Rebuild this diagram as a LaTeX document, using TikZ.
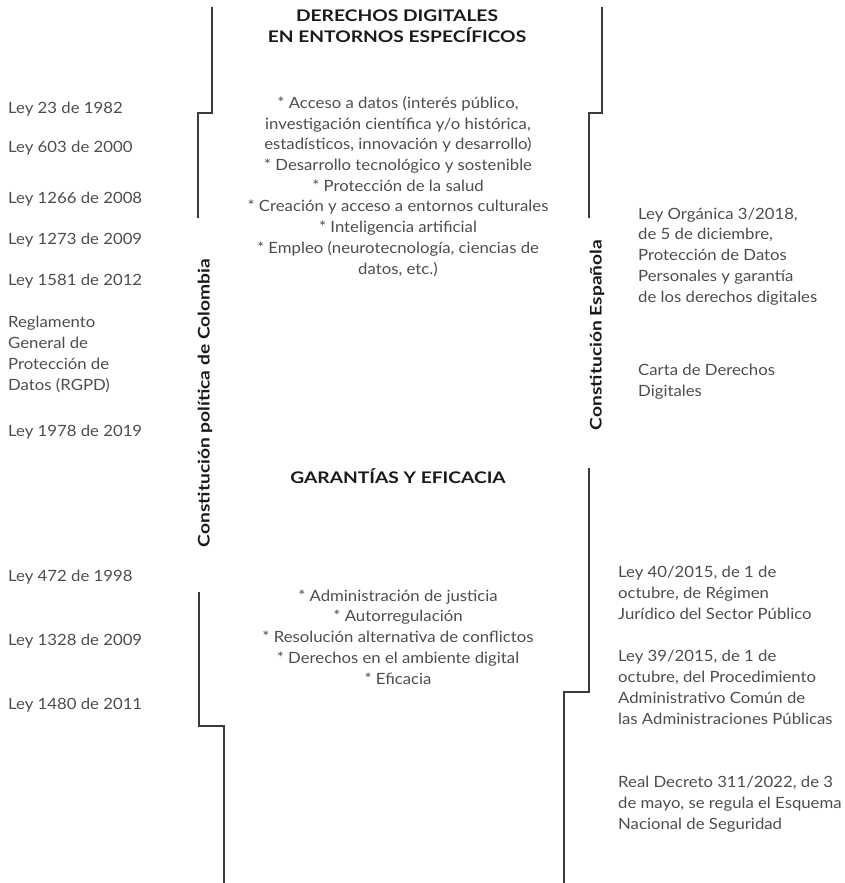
\documentclass[tikz,border=0pt]{standalone}
\usepackage{fontspec}
\setmainfont{Lato}
\newfontfamily\bodyfont[FakeStretch=1.08]{Lato}
\newfontfamily\headfont[FakeStretch=1.2]{Lato}
\definecolor{txt}{HTML}{4D4D4D}
\definecolor{ln}{HTML}{3A3A3A}
\definecolor{hd}{HTML}{1A1A1A}
\begin{document}
\begin{tikzpicture}[x=1pt,y=-1pt,
  body/.style={text=txt,inner sep=0pt,font={\bodyfont\fontsize{15.5}{20.7}\selectfont}},
  lft/.style={body,anchor=base west,align=left},
  ctr/.style={body,anchor=base,align=center},
  head/.style={text=hd,inner sep=0pt,anchor=base,align=center,font={\headfont\fontsize{16}{21}\selectfont\bfseries}},
  vert/.style={text=hd,inner sep=0pt,rotate=90,font={\headfont\fontsize{16}{18}\selectfont\bfseries}},
  rule/.style={draw=ln,line width=1.2pt}]
\useasboundingbox (0,0) rectangle (845,883);
% lines
\coordinate (l1a) at (212,7); \coordinate (l1b) at (198,218);
\draw[rule] (l1a) -- (212,113) -- (198,113) -- (l1b);
\coordinate (r1a) at (602,7); \coordinate (r1b) at (589,218);
\draw[rule] (r1a) -- (602,113) -- (589,113) -- (r1b);
\coordinate (l2a) at (199,592); \coordinate (l2b) at (224,883);
\draw[rule] (l2a) -- (199,726) -- (224,726) -- (l2b);
\coordinate (r2a) at (589,468); \coordinate (r2b) at (564,883);
\draw[rule] (r2a) -- (589,692) -- (564,692) -- (r2b);
% headings
\node[head] (h1) at (397,42.5) {DERECHOS DIGITALES\\EN ENTORNOS ESPECÍFICOS};
\node[head] (h2) at (398,483) {GARANTÍAS Y EFICACIA};
% vertical labels
\node[vert] (vc) at (205,403) {Constitución política de Colombia};
\node[vert] (ve) at (597,335) {Constitución Española};
% center blocks (anchored at last baseline)
\node[ctr] (c1) at (398,274) {* Acceso a datos (interés público,\\investigación científica y/o histórica,\\estadísticos, innovación y desarrollo)\\* Desarrollo tecnológico y sostenible\\* Protección de la salud\\* Creación y acceso a entornos culturales\\* Inteligencia artificial\\* Empleo (neurotecnología, ciencias de\\datos, etc.)};
\node[ctr] (c2) at (398,684) {* Administración de justicia\\* Autorregulación\\* Resolución alternativa de conflictos\\* Derechos en el ambiente digital\\* Eficacia};
% left column
\node[lft] (a1) at (8,113) {Ley 23 de 1982};
\node[lft] (a2) at (8,152) {Ley 603 de 2000};
\node[lft] (a3) at (8,203) {Ley 1266 de 2008};
\node[lft] (a4) at (8,244) {Ley 1273 de 2009};
\node[lft] (a5) at (8,285) {Ley 1581 de 2012};
\node[lft] (a6) at (8,390) {Reglamento\\General de\\Protección de\\Datos (RGPD)};
\node[lft] (a7) at (8,436) {Ley 1978 de 2019};
\node[lft] (a8) at (8,581) {Ley 472 de 1998};
\node[lft] (a9) at (8,645) {Ley 1328 de 2009};
\node[lft] (a10) at (8,709) {Ley 1480 de 2011};
% right column
\node[lft] (b1) at (638,302) {Ley Orgánica 3/2018,\\de 5 de diciembre,\\Protección de Datos\\Personales y garantía\\de los derechos digitales};
\node[lft] (b2) at (638,396) {Carta de Derechos\\Digitales};
\node[lft] (b3) at (618,619) {Ley 40/2015, de 1 de\\octubre, de Régimen\\Jurídico del Sector Público};
\node[lft] (b4) at (618,724) {Ley 39/2015, de 1 de\\octubre, del Procedimiento\\Administrativo Común de\\las Administraciones Públicas};
\node[lft] (b5) at (618,829) {Real Decreto 311/2022, de 3\\de mayo, se regula el Esquema\\Nacional de Seguridad};
\end{tikzpicture}
\end{document}
